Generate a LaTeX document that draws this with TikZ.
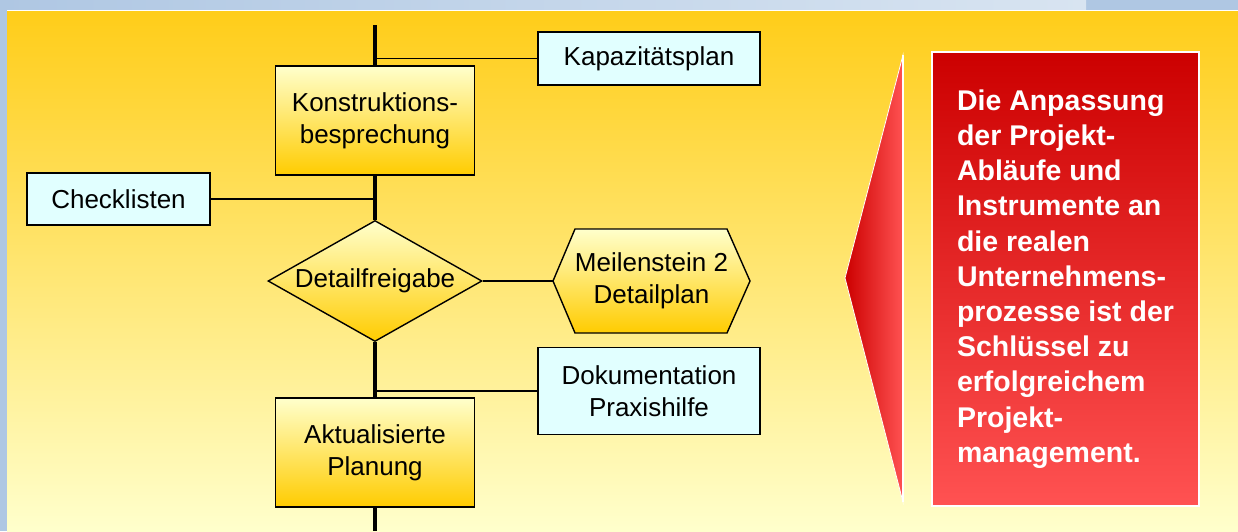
\documentclass[tikz,border=0pt]{standalone}
\usepackage{fontspec}
\setmainfont{Liberation Sans}
\usetikzlibrary{shapes.geometric}
\definecolor{gold}{RGB}{255,204,0}
\definecolor{paleyellow}{RGB}{255,255,204}
\definecolor{panelgold}{RGB}{255,205,25}
\definecolor{palecyan}{RGB}{225,255,255}
\definecolor{darkred}{RGB}{204,0,0}
\definecolor{lightred}{RGB}{255,82,82}
\definecolor{frameblue}{RGB}{175,199,227}
\definecolor{paleblue}{RGB}{216,228,241}

\begin{document}
\begin{tikzpicture}
  [x=1pt,y=-1pt,
   every node/.style={font=\fontsize{26}{32}\selectfont,align=center,inner sep=0pt},
   procbox/.style={rectangle,draw=black,line width=1.8pt,top color=paleyellow,bottom color=gold,
     minimum width=199pt,minimum height=109pt},
   docbox/.style={rectangle,draw=black,line width=1.4pt,fill=palecyan},
   decision/.style={diamond,draw=black,line width=1.4pt,top color=paleyellow,bottom color=gold,
     minimum width=214pt,minimum height=121pt,aspect=1.77},
   link/.style={line width=1.6pt}]
  \useasboundingbox (0,0) rectangle (1238,531);

  % background
  \fill[frameblue] (0,0) rectangle (1238,531);
  \shade[left color=frameblue,right color=paleblue] (0,0) rectangle (1086,10);
  \shade[top color=panelgold,bottom color=paleyellow] (7,10) rectangle (1238,531);
  \draw[white,line width=1.2pt] (7,10.5) -- (1238,10.5);

  % flow
  \coordinate (top) at (375,25);
  \coordinate (bot) at (375,531);

  \node (kap)[docbox,minimum width=222pt,minimum height=53pt] at (649,58.5) {Kapazitätsplan};
  \node (konst)[procbox] at (375,120.5) {Konstruktions-\\besprechung};
  \node (check)[docbox,minimum width=183pt,minimum height=52pt] at (118.5,199) {Checklisten};
  \node (dfg)[decision] at (375,281) {Detailfreigabe};
  \node (doku)[docbox,minimum width=222pt,minimum height=87pt] at (649,391) {Dokumentation\\Praxishilfe};
  \node (akt)[procbox] at (375,452.5) {Aktualisierte\\Planung};

  \path[draw=black,line width=1.4pt,top color=paleyellow,bottom color=gold]
    (553,281) -- (575,229) -- (727,229) -- (750,281) -- (727,333) -- (575,333) -- cycle;
  \coordinate (msw) at (553,281);
  \node (ms) at (651.5,281) {Meilenstein 2\\Detailplan};

  \foreach \from/\to in {top/konst.north,konst.south/dfg.north,dfg.south/akt.north,akt.south/bot}
    \draw[line width=4pt] (\from) -- (\to);

  \foreach \from/\to in {kap.west/kap.west -| top,check.east/check.east -| top,dfg.east/msw,doku.west/doku.west -| top}
    \draw[link] (\from) -- (\to);

  % callout
  \path[left color=darkred,right color=lightred,draw=white,line width=0.8pt]
    (903,55) -- (845,278) -- (903,502) -- cycle;
  \draw[white,line width=2pt] (903,55) -- (903,502);
  \node (msg)[rectangle,draw=white,line width=1.4pt,top color=darkred,bottom color=lightred,
    minimum width=267pt,minimum height=454pt,align=left,text=white,
    font=\fontsize{28.5}{35.2}\selectfont\bfseries] at (1065.5,279)
    {Die Anpassung\\der Projekt-\\Abläufe und\\Instrumente an\\die realen\\Unternehmens-\\prozesse ist der\\Schlüssel zu\\erfolgreichem\\Projekt-\\management.};
\end{tikzpicture}
\end{document}
